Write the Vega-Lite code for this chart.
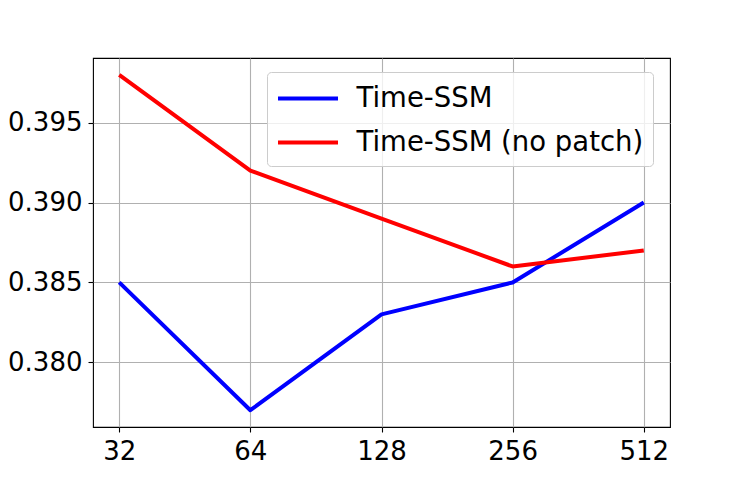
{
  "$schema": "https://vega.github.io/schema/vega-lite/v6.json",
  "autosize": {"type": "none"},
  "width": 577,
  "height": 369,
  "padding": {"left": 93, "top": 58, "right": 75, "bottom": 53},
  "background": "white",
  "config": {
    "font": "DejaVu Sans",
    "view": {"stroke": "black", "strokeWidth": 1.1},
    "axis": {
      "domain": false,
      "grid": true,
      "gridColor": "#b0b0b0",
      "gridWidth": 1.1,
      "tickColor": "black",
      "tickWidth": 1.1,
      "tickSize": 5,
      "labelFont": "DejaVu Sans",
      "labelFontSize": 26,
      "labelColor": "black",
      "title": null
    }
  },
  "data": {
    "values": [
      {"patch": 32, "value": 0.385, "series": "Time-SSM"},
      {"patch": 64, "value": 0.377, "series": "Time-SSM"},
      {"patch": 128, "value": 0.383, "series": "Time-SSM"},
      {"patch": 256, "value": 0.385, "series": "Time-SSM"},
      {"patch": 512, "value": 0.390, "series": "Time-SSM"},
      {"patch": 32, "value": 0.398, "series": "Time-SSM (no patch)"},
      {"patch": 64, "value": 0.392, "series": "Time-SSM (no patch)"},
      {"patch": 128, "value": 0.389, "series": "Time-SSM (no patch)"},
      {"patch": 256, "value": 0.386, "series": "Time-SSM (no patch)"},
      {"patch": 512, "value": 0.387, "series": "Time-SSM (no patch)"}
    ]
  },
  "mark": {"type": "line", "strokeWidth": 4, "strokeJoin": "round", "clip": true},
  "encoding": {
    "x": {
      "field": "patch",
      "type": "quantitative",
      "scale": {"type": "log", "base": 2, "domain": [27.857, 588.13], "nice": false},
      "axis": {"values": [32, 64, 128, 256, 512], "format": "d", "labelPadding": 6, "labelFlush": false}
    },
    "y": {
      "field": "value",
      "type": "quantitative",
      "scale": {"domain": [0.37595, 0.39905], "zero": false, "nice": false},
      "axis": {"values": [0.380, 0.385, 0.390, 0.395], "format": ".3f", "labelPadding": 6, "labelFlush": false}
    },
    "color": {
      "field": "series",
      "type": "nominal",
      "scale": {"domain": ["Time-SSM", "Time-SSM (no patch)"], "range": ["#0000ff", "#ff0000"]},
      "legend": {
        "title": null,
        "orient": "none",
        "legendX": 174,
        "legendY": 14,
        "padding": 9.5,
        "fillColor": "rgba(255,255,255,0.8)",
        "strokeColor": "#cccccc",
        "cornerRadius": 4,
        "symbolType": "M-2,0H2",
        "symbolSize": 900,
        "symbolStrokeWidth": 4,
        "symbolOffset": 14.5,
        "rowPadding": 13,
        "labelOffset": 31.5,
        "labelFontSize": 27.5,
        "labelFont": "DejaVu Sans",
        "labelColor": "black",
        "labelLimit": 500
      }
    }
  }
}
